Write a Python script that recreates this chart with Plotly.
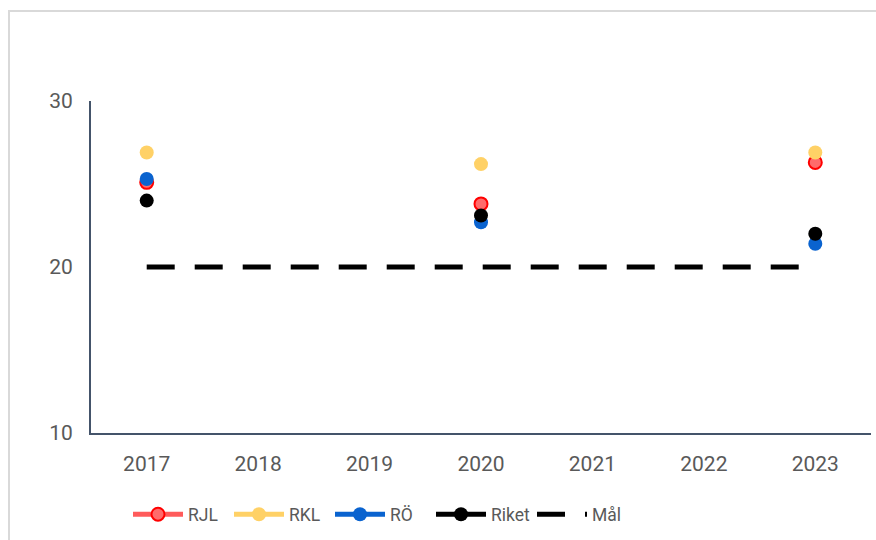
import plotly.graph_objects as go

years = ["2017", "2018", "2019", "2020", "2021", "2022", "2023"]
rjl = [25.1, None, None, 23.8, None, None, 26.3]
rkl = [26.9, None, None, 26.2, None, None, 26.9]
ro = [25.3, None, None, 22.7, None, None, 21.4]
riket = [24.0, None, None, 23.1, None, None, 22.0]
mal = [20, 20, 20, 20, 20, 20, 20]

fig = go.Figure()

fig.add_trace(go.Scatter(x=years, y=rjl, name="RJL", mode="lines+markers",
                         line=dict(color="#FF5B5B", width=5),
                         marker=dict(size=13, color="#FF6B6B", line=dict(color="#FF0000", width=2))))
fig.add_trace(go.Scatter(x=years, y=rkl, name="RKL", mode="lines+markers",
                         line=dict(color="#FFD166", width=5),
                         marker=dict(size=14, color="#FFD166")))
fig.add_trace(go.Scatter(x=years, y=ro, name="RÖ", mode="lines+markers",
                         line=dict(color="#0A63CF", width=5),
                         marker=dict(size=14, color="#0A63CF")))
fig.add_trace(go.Scatter(x=years, y=riket, name="Riket", mode="lines+markers",
                         line=dict(color="#000000", width=5),
                         marker=dict(size=14, color="#000000")))
fig.add_trace(go.Scatter(x=years, y=mal, name="Mål", mode="lines",
                         line=dict(color="#000000", width=5, dash="28px,20px")))

fig.update_layout(
    width=876, height=540,
    margin=dict(l=91, r=5, t=101, b=107),
    paper_bgcolor="white", plot_bgcolor="white",
    font=dict(family="Roboto", size=21, color="#595959"),
    showlegend=True,
    legend=dict(orientation="h", x=(128 - 91) / 780, xanchor="left", y=-0.245, yanchor="middle",
                font=dict(size=17.5, color="#595959"), itemwidth=50, tracegroupgap=0,
                entrywidth=36, entrywidthmode="pixels"),
    xaxis=dict(type="category", categoryorder="array", categoryarray=years,
               range=[-0.5, 6.5],
               showline=True, linecolor="#44546A", linewidth=2, showgrid=False,
               ticks="", ticklabelstandoff=11, zeroline=False, fixedrange=True),
    yaxis=dict(range=[10, 30], tickvals=[10, 20, 30], showline=True, linecolor="#44546A",
               linewidth=2, showgrid=False, ticks="", ticklabelstandoff=12,
               zeroline=False, fixedrange=True),
    shapes=[dict(type="rect", xref="paper", yref="paper",
                 x0=(9 - 91) / 780, x1=(878 - 91) / 780,
                 y0=(433 - 542) / 332, y1=(433 - 11) / 332,
                 line=dict(color="#D9D9D9", width=2), layer="below")],
)

fig.write_html("out.html")
